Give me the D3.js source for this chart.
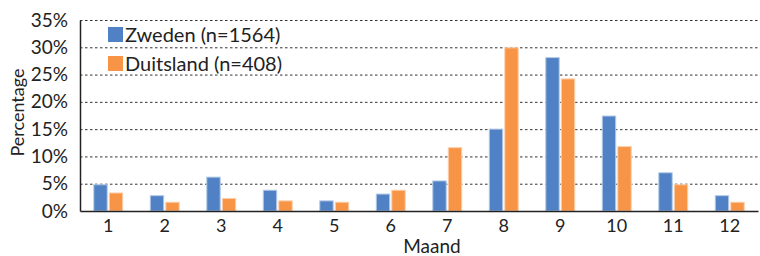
<!DOCTYPE html>
<html>
<head>
<meta charset="utf-8">
<script src="https://cdn.jsdelivr.net/npm/d3@7"></script>
<style>
  body { margin: 0; background: #fff; }
  text { font-family: Lato, "Open Sans", sans-serif; fill: #222; }
  .grid line { stroke: #333; stroke-dasharray: 2.5 2.5; stroke-width: 1; }
  .grid .domain { display: none; }
</style>
</head>
<body>
<div id="chart"></div>
<script>
var months = ["1", "2", "3", "4", "5", "6", "7", "8", "9", "10", "11", "12"];
var zweden = [4.9, 2.9, 6.3, 3.9, 1.95, 3.2, 5.6, 15.1, 28.2, 17.5, 7.1, 2.9];
var duitsland = [3.4, 1.7, 2.4, 1.95, 1.7, 3.9, 11.7, 30.0, 24.3, 11.9, 4.9, 1.7];
var seriesNames = ["Zweden (n=1564)", "Duitsland (n=408)"];
var yTicks = [0, 5, 10, 15, 20, 25, 30, 35];

var svgWidth = 760;
var svgHeight = 256;
var margin = { top: 20, right: 2, bottom: 45, left: 80 };
var width = svgWidth - margin.left - margin.right;
var height = svgHeight - margin.top - margin.bottom;

var colors = ["#4f81c4", "#f79446"];
var strokes = ["#b5cbe8", "#fbd0ad"];

var svg = d3.select("#chart")
  .append("svg")
  .attr("width", svgWidth)
  .attr("height", svgHeight);

var chartGroup = svg.append("g")
  .attr("transform", `translate(${margin.left}, ${margin.top})`);

var xScale = d3.scaleBand()
  .domain(months)
  .range([0, width])
  .paddingInner(0.47)
  .paddingOuter(0.235);

var xInner = d3.scaleBand()
  .domain([0, 1])
  .range([0, xScale.bandwidth()])
  .paddingInner(0.07);

var yScale = d3.scaleLinear()
  .domain([0, 35])
  .range([height, 0]);

// gridlines
chartGroup.append("g")
  .attr("class", "grid")
  .call(d3.axisLeft(yScale).tickValues(yTicks.slice(1)).tickSize(-width).tickFormat(""));

// bars
var data = months.map(function(m, i) {
  return { month: m, values: [zweden[i], duitsland[i]] };
});

var groups = chartGroup.selectAll(".month")
  .data(data)
  .enter()
  .append("g")
  .attr("transform", d => `translate(${xScale(d.month)}, 0)`);

groups.selectAll("rect")
  .data(d => d.values.map((v, i) => ({ s: i, v: v })))
  .enter()
  .append("rect")
  .attr("x", d => xInner(d.s) + 0.5)
  .attr("y", d => yScale(d.v) + 0.5)
  .attr("width", xInner.bandwidth() - 1)
  .attr("height", d => height - yScale(d.v) - 0.5)
  .attr("fill", d => colors[d.s])
  .attr("stroke", d => strokes[d.s])
  .attr("stroke-width", 1);

// y axis
var leftAxis = d3.axisLeft(yScale)
  .tickValues(yTicks)
  .tickSize(0)
  .tickPadding(12)
  .tickFormat(d => d + "%");

var yAxisG = chartGroup.append("g").call(leftAxis);
yAxisG.select(".domain").attr("stroke", "#222").attr("stroke-width", 1.5);
yAxisG.selectAll("text").style("font-size", "19px");

// x axis
var bottomAxis = d3.axisBottom(xScale).tickSize(0).tickPadding(8);
var xAxisG = chartGroup.append("g")
  .attr("transform", `translate(0, ${height})`)
  .call(bottomAxis);
xAxisG.select(".domain").attr("stroke", "#222").attr("stroke-width", 1.5);
xAxisG.selectAll("text").style("font-size", "18px");

// axis titles
chartGroup.append("text")
  .attr("transform", "rotate(-90)")
  .attr("x", -height / 2 + 3)
  .attr("y", -margin.left + 24)
  .attr("text-anchor", "middle")
  .style("font-size", "18px")
  .text("Percentage");

chartGroup.append("text")
  .attr("x", 352)
  .attr("y", height + 42)
  .attr("text-anchor", "middle")
  .style("font-size", "19px")
  .text("Maand");

// legend
var legend = chartGroup.selectAll(".legend")
  .data(seriesNames)
  .enter()
  .append("g")
  .attr("transform", (d, i) => `translate(28, ${7 + i * 29})`);

legend.append("rect")
  .attr("width", 15)
  .attr("height", 15)
  .attr("fill", (d, i) => colors[i]);

legend.append("text")
  .attr("x", 17)
  .attr("y", 14.5)
  .style("font-size", "20px")
  .text(d => d);
</script>
</body>
</html>
